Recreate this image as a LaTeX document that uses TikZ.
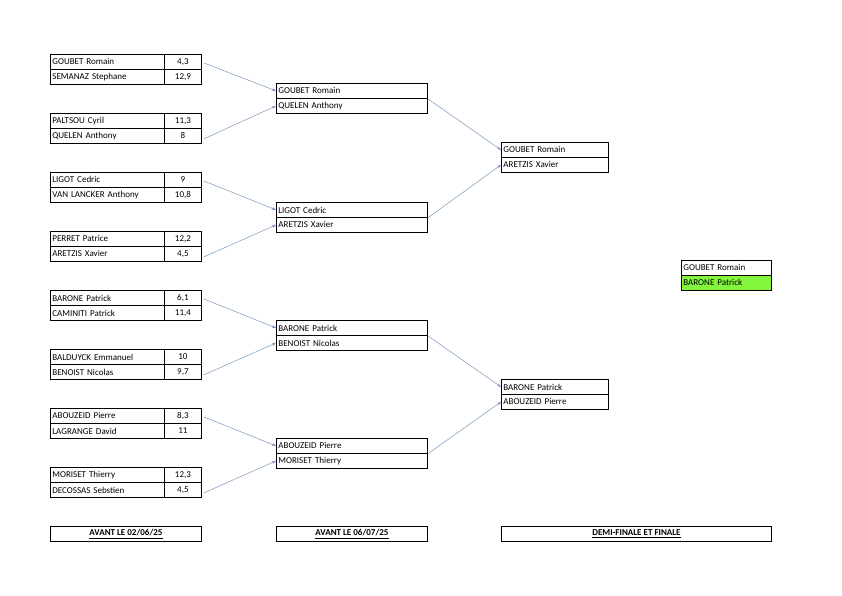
\documentclass[tikz,border=0pt]{standalone}
\usepackage{fontspec}
\setmainfont{Carlito}
\usetikzlibrary{arrows.meta}
\definecolor{arr}{RGB}{120,150,195}
\definecolor{win}{RGB}{130,245,60}
\tikzset{
 cell/.style={draw,line width=0.8pt,minimum height=15pt,inner sep=0pt,font=\fontsize{9}{10}\selectfont},
 nm/.style={cell,minimum width=114pt,text width=110pt,align=left},
 score/.style={cell,minimum width=37pt,align=center},
 r2/.style={cell,minimum width=151pt,text width=147pt,align=left},
 r3/.style={cell,minimum width=107pt,text width=103pt,align=left},
 r4/.style={cell,minimum width=90pt,text width=86pt,align=left},
 foot/.style={draw,line width=1pt,minimum height=15pt,inner sep=0pt,font=\fontsize{9}{10}\selectfont\bfseries},
 link/.style={arr,line width=0.5pt,-{Stealth[length=4pt,width=3pt]}}
}
\newcommand{\pair}[6]{%
 \node[nm,anchor=north west] (#1a) at (50,#2) {#3};
 \node[score,anchor=north west] (#1as) at (164,#2) {#4};
 \node[nm,anchor=north west] (#1b) at (50,#2+15) {#5};
 \node[score,anchor=north west] (#1bs) at (164,#2+15) {#6};
}
\begin{document}
\begin{tikzpicture}[x=1pt,y=-1pt]
\useasboundingbox (0,0) rectangle (842,595);
\pair{p1}{54}{GOUBET Romain}{4,3}{SEMANAZ Stephane}{12,9}
\pair{p2}{113}{PALTSOU Cyril}{11,3}{QUELEN Anthony}{8}
\pair{p3}{172}{LIGOT Cedric}{9}{VAN LANCKER Anthony}{10,8}
\pair{p4}{231}{PERRET Patrice}{12,2}{ARETZIS Xavier}{4,5}
\pair{p5}{290}{BARONE Patrick}{6,1}{CAMINITI Patrick}{11,4}
\pair{p6}{349}{BALDUYCK Emmanuel}{10}{BENOIST Nicolas}{9,7}
\pair{p7}{408}{ABOUZEID Pierre}{8,3}{LAGRANGE David}{11}
\pair{p8}{467}{MORISET Thierry}{12,3}{DECOSSAS Sebstien}{4,5}
% round 2
\node[r2,anchor=north west] (qAa) at (276,83) {GOUBET Romain};
\node[r2,anchor=north west] (qAb) at (276,98) {QUELEN Anthony};
\node[r2,anchor=north west] (qBa) at (276,202) {LIGOT Cedric};
\node[r2,anchor=north west] (qBb) at (276,217) {ARETZIS Xavier};
\node[r2,anchor=north west] (qCa) at (276,320) {BARONE Patrick};
\node[r2,anchor=north west] (qCb) at (276,335) {BENOIST Nicolas};
\node[r2,anchor=north west] (qDa) at (276,438) {ABOUZEID Pierre};
\node[r2,anchor=north west] (qDb) at (276,453) {MORISET Thierry};
% round 3
\node[r3,anchor=north west] (sAa) at (501,142) {GOUBET Romain};
\node[r3,anchor=north west] (sAb) at (501,157) {ARETZIS Xavier};
\node[r3,anchor=north west] (sBa) at (501,379) {BARONE Patrick};
\node[r3,anchor=north west] (sBb) at (501,394) {ABOUZEID Pierre};
% final
\node[r4,anchor=north west] (fa) at (681,260) {GOUBET Romain};
\node[r4,anchor=north west,fill=win] (fb) at (681,275) {BARONE Patrick};
% footers
\node[foot,minimum width=151pt,anchor=north west] (f1) at (50,526) {\underline{AVANT LE 02/06/25}};
\node[foot,minimum width=151pt,anchor=north west] (f2) at (276,526) {\underline{AVANT LE 06/07/25}};
\node[foot,minimum width=270pt,anchor=north west] (f3) at (501,526) {\underline{DEMI-FINALE ET FINALE}};
% links
\draw[link] ([xshift=2pt,yshift=-1pt]p1as.east) -- (qAa.west);
\draw[link] ([xshift=2pt,yshift=-1pt]p3as.east) -- (qBa.west);
\draw[link] ([xshift=2pt,yshift=-1pt]p5as.east) -- (qCa.west);
\draw[link] ([xshift=2pt,yshift=-1pt]p7as.east) -- (qDa.west);
\draw[link] ([xshift=2pt,yshift=-3pt]p2bs.east) -- (qAb.west);
\draw[link] ([xshift=2pt,yshift=-3pt]p4bs.east) -- (qBb.west);
\draw[link] ([xshift=2pt,yshift=-3pt]p6bs.east) -- (qCb.west);
\draw[link] ([xshift=2pt,yshift=-3pt]p8bs.east) -- (qDb.west);
\draw[link] (qAa.south east) -- (sAa.west);
\draw[link] (qBa.south east) -- (sAb.west);
\draw[link] (qCa.south east) -- (sBa.west);
\draw[link] (qDa.south east) -- (sBb.west);
\end{tikzpicture}
\end{document}
